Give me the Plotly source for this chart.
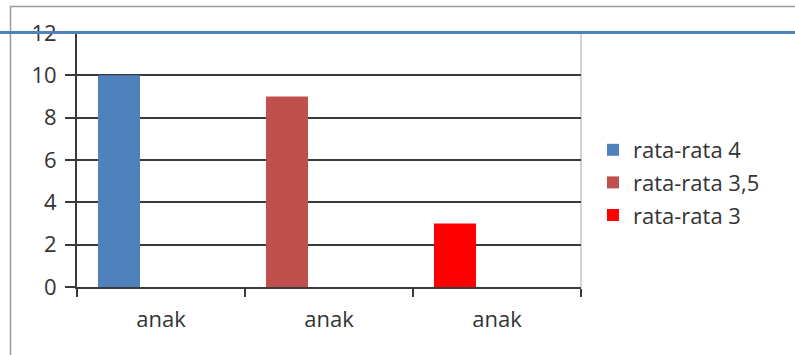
import plotly.graph_objects as go

# Category slots along the x axis (all labelled "anak")
categories = ["anak", "anak", "anak"]
series_names = ["rata-rata 4", "rata-rata 3,5", "rata-rata 3"]
series_values = [10, 9, 3]
series_slot = [0, 1, 2]
series_colors = ["#4F81BD", "#C0504D", "#FF0000"]
y_ticks = [0, 2, 4, 6, 8, 10, 12]

W, H = 795, 355
FONT = "Open Sans"
TXT = "#333333"
FS = 22

fig = go.Figure()
for name, val, slot, col in zip(series_names, series_values, series_slot, series_colors):
    fig.add_trace(go.Bar(
        x=[slot], y=[val], name=name,
        marker=dict(color=col, line=dict(width=0)),
        width=0.25, offset=-0.375,
        legendgroup=name,
    ))

def px(x):
    return x / W

def py(y):
    return 1 - y / H

fig.update_layout(
    template="none",
    width=W, height=H,
    margin=dict(l=0, r=0, t=0, b=0, pad=0),
    paper_bgcolor="white", plot_bgcolor="white",
    barmode="overlay",
    font=dict(family=FONT, size=FS, color=TXT),
    xaxis=dict(
        domain=[px(77), px(581)],
        range=[-0.5, 2.5],
        automargin=False,
        tickmode="array",
        tickvals=list(range(len(categories))),
        ticktext=categories,
        ticks="outside", ticklen=8, tickcolor="rgba(0,0,0,0)",
        ticklabelstandoff=4,
        showline=True, linecolor="#3a3a3a", linewidth=2,
        showgrid=False, zeroline=False,
        minor=dict(tickmode="linear", tick0=-0.5, dtick=1,
                   ticks="outside", ticklen=8, tickwidth=2,
                   tickcolor="#3a3a3a", showgrid=False),
        fixedrange=True,
    ),
    yaxis=dict(
        domain=[py(287), py(33)],
        range=[0, 12],
        automargin=False,
        tickmode="array", tickvals=y_ticks,
        ticks="outside", ticklen=10, tickwidth=2, tickcolor="#3a3a3a",
        ticklabelstandoff=4,
        showline=True, linecolor="#3a3a3a", linewidth=2,
        showgrid=True, gridcolor="#3a3a3a", gridwidth=2,
        zeroline=False,
        fixedrange=True,
    ),
    legend=dict(
        x=px(593), y=py(129), xanchor="left", yanchor="top",
        font=dict(family=FONT, size=FS, color=TXT),
        tracegroupgap=1,
        bgcolor="rgba(0,0,0,0)", borderwidth=0,
    ),
    showlegend=True,
    shapes=[
        # plot-area right border
        dict(type="line", xref="paper", yref="paper",
             x0=px(581), x1=px(581), y0=py(33), y1=py(287),
             line=dict(color="#d4d4d4", width=2), layer="below"),
        # outer frame (top and left)
        dict(type="line", xref="paper", yref="paper",
             x0=px(10), x1=1, y0=py(6.5), y1=py(6.5),
             line=dict(color="#9a9a9a", width=1.5), layer="above"),
        dict(type="line", xref="paper", yref="paper",
             x0=px(10.5), x1=px(10.5), y0=py(6.5), y1=py(355),
             line=dict(color="#9a9a9a", width=1.5), layer="above"),
        # blue rule across the top
        dict(type="line", xref="paper", yref="paper",
             x0=0, x1=1, y0=py(32.5), y1=py(32.5),
             line=dict(color="#4F81BD", width=3), layer="above"),
    ],
)

fig.write_html("out.html")
